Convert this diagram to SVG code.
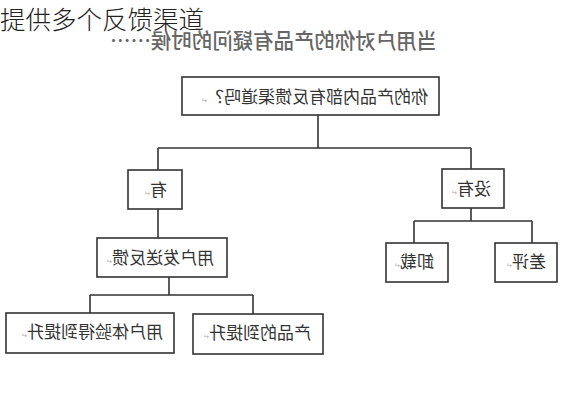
<svg xmlns="http://www.w3.org/2000/svg" width="580" height="400" viewBox="0 0 580 400">
<style>
.box{fill:#fff;stroke:#333;stroke-width:1.6}
.ln{fill:none;stroke:#333;stroke-width:1.6}
.t{font-family:"Noto Sans CJK SC","Noto Sans CJK JP",sans-serif;font-size:17px;fill:#333}
.m{font-size:7px;fill:#aaa}
</style>
<rect width="580" height="400" fill="#fff"/>
<text x="0" y="29" font-family="Noto Sans CJK SC, sans-serif" font-size="25.5" font-weight="300" fill="#222">提供多个反馈渠道</text>
<text transform="translate(437,48) scale(-1,1)" font-family="Noto Sans CJK SC, sans-serif" font-size="21" font-weight="500" fill="#666" textLength="327" lengthAdjust="spacingAndGlyphs">当用户对你的产品有疑问的时候……</text>
<g id="connectors">
<path class="ln" d="M318 115V148M158 148H471M158 148V170M471 148V169M158 209V238M471 208V221M414 221H532M414 221V243M532 221V243M169 277V295M90 295H253M90 295V313M253 295V314"/>
</g>
<g id="q">
<rect class="box" x="182" y="77" width="257" height="38"/>
<text class="t" transform="translate(428,103) scale(-1,1)">你的产品内部有反馈渠道吗？<tspan class="m">↵</tspan></text>
</g>
<g id="you">
<rect class="box" x="128" y="170" width="54" height="39"/>
<text class="t" transform="translate(167,196) scale(-1,1)">有<tspan class="m">↵</tspan></text>
</g>
<g id="meiyou">
<rect class="box" x="442" y="169" width="62" height="39"/>
<text class="t" transform="translate(491,195) scale(-1,1)">没有<tspan class="m">↵</tspan></text>
</g>
<g id="fankui">
<rect class="box" x="97" y="238" width="130" height="39"/>
<text class="t" transform="translate(214,264) scale(-1,1)">用户发送反馈<tspan class="m">↵</tspan></text>
</g>
<g id="xiezai">
<rect class="box" x="386" y="243" width="62" height="39"/>
<text class="t" transform="translate(434,268) scale(-1,1)">卸载<tspan class="m">↵</tspan></text>
</g>
<g id="chaping">
<rect class="box" x="495" y="243" width="62" height="39"/>
<text class="t" transform="translate(546,268) scale(-1,1)">差评<tspan class="m">↵</tspan></text>
</g>
<g id="tiyan">
<rect class="box" x="6" y="313" width="168" height="40"/>
<text class="t" transform="translate(163,338) scale(-1,1)">用户体验得到提升<tspan class="m">↵</tspan></text>
</g>
<g id="chanpin">
<rect class="box" x="193" y="314" width="130" height="40"/>
<text class="t" transform="translate(311,339) scale(-1,1)">产品的到提升<tspan class="m">↵</tspan></text>
</g>
</svg>
